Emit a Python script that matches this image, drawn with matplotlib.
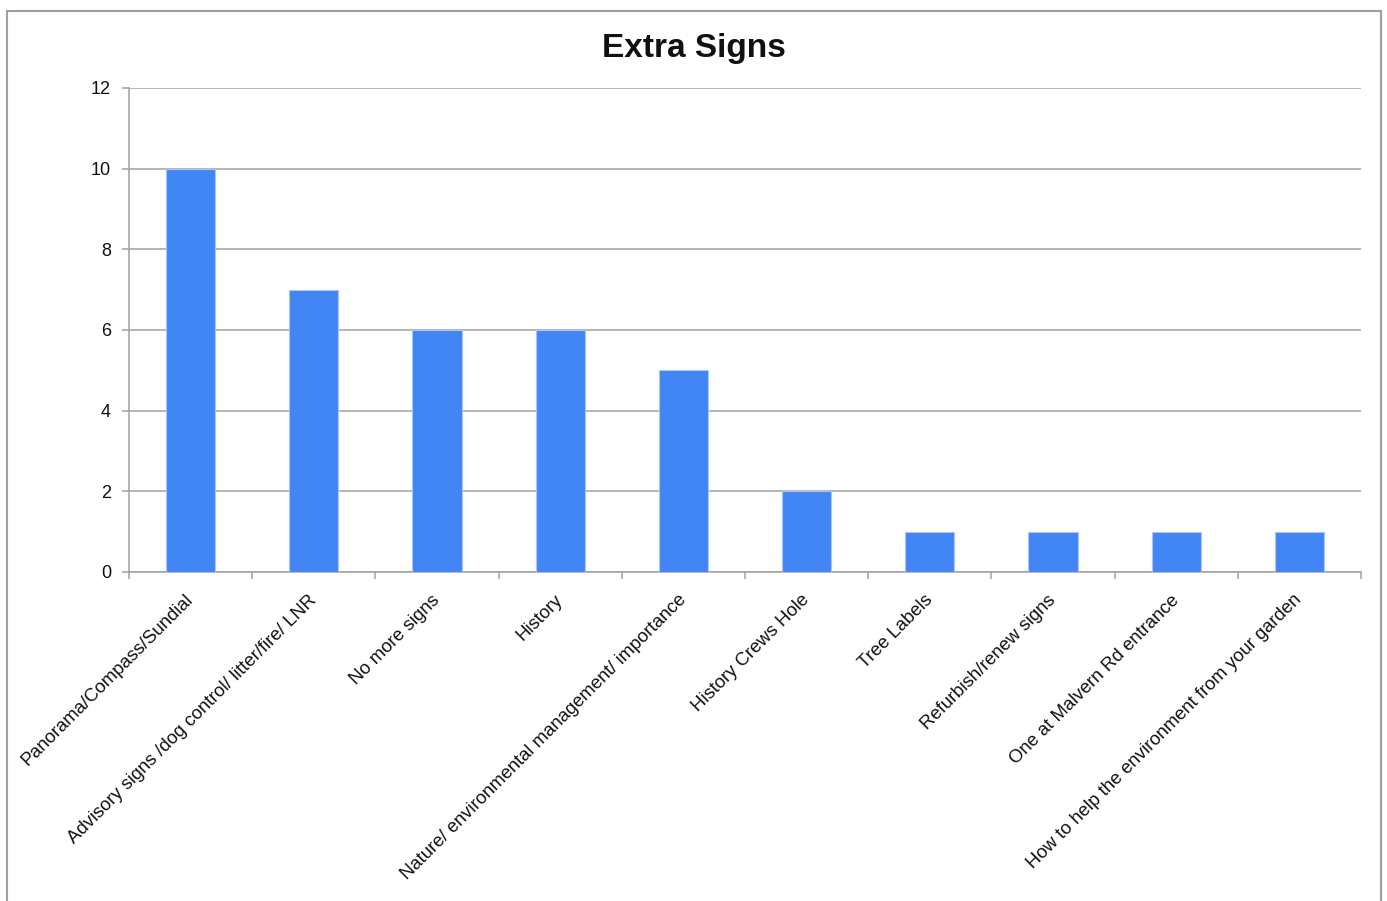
import matplotlib
matplotlib.use("Agg")
import matplotlib.pyplot as plt
from matplotlib.patches import Rectangle
from matplotlib.ticker import FixedLocator, NullFormatter
from matplotlib.transforms import ScaledTranslation

plt.rcParams["font.family"] = ["Liberation Sans", "DejaVu Sans"]

# --- data -------------------------------------------------------------------
categories = [
    "Panorama/Compass/Sundial",
    "Advisory signs /dog control/ litter/fire/ LNR",
    "No more signs",
    "History",
    "Nature/ environmental management/ importance",
    "History Crews Hole",
    "Tree Labels",
    "Refurbish/renew signs",
    "One at Malvern Rd entrance",
    "How to help the environment from your garden",
]
counts = [10, 7, 6, 6, 5, 2, 1, 1, 1, 1]
y_ticks = [0, 2, 4, 6, 8, 10, 12]

GREY = "#a0a0a0"
BAR = "#4285f4"

fig = plt.figure(figsize=(13.87, 9.01), dpi=100)
ax = fig.add_axes([129 / 1387, 1 - 572 / 901, (1361 - 129) / 1387, (572 - 88) / 901])

x = list(range(len(categories)))
ax.bar(x, counts, width=0.4, color=BAR, edgecolor="#a9c7fa", linewidth=0.8, zorder=3)

ax.set_xlim(-0.5, len(categories) - 0.5)
ax.set_ylim(0, 12)
ax.set_yticks(y_ticks)
ax.yaxis.grid(True, color=GREY, linewidth=1.1, zorder=0)

# category labels at bar centres, small ticks at the boundaries
ax.set_xticks(x)
ax.set_xticklabels(categories, rotation=45, ha="right", va="top",
                   rotation_mode="anchor", fontsize=13.3, color="#111111")
ax.tick_params(axis="x", which="major", length=0, pad=14)
shift = ScaledTranslation(-6 / 100, 0, fig.dpi_scale_trans)
for lbl in ax.get_xticklabels():
    lbl.set_transform(lbl.get_transform() + shift)
ax.xaxis.set_minor_locator(FixedLocator([i - 0.5 for i in range(len(categories) + 1)]))
ax.xaxis.set_minor_formatter(NullFormatter())
ax.tick_params(axis="x", which="minor", length=5, width=1.1, color=GREY)

ax.tick_params(axis="y", length=5, width=1.1, color=GREY, labelsize=13,
               labelcolor="#111111", pad=8)

for side in ["top", "right"]:
    ax.spines[side].set_visible(False)
for side in ["left", "bottom"]:
    ax.spines[side].set_color(GREY)
    ax.spines[side].set_linewidth(1.1)

fig.text(0.5, 1 - 48 / 901, "Extra Signs", ha="center", va="center",
         fontsize=24, fontweight="bold", color="#111111")

# outer chart border (runs off the bottom of the image)
fig.add_artist(Rectangle((7 / 1387, -0.02), (1381 - 7) / 1387, 0.02 + (901 - 11) / 901,
                         transform=fig.transFigure, fill=False,
                         edgecolor=GREY, linewidth=1.5))

fig.savefig("out.png", dpi=100, facecolor="white")
